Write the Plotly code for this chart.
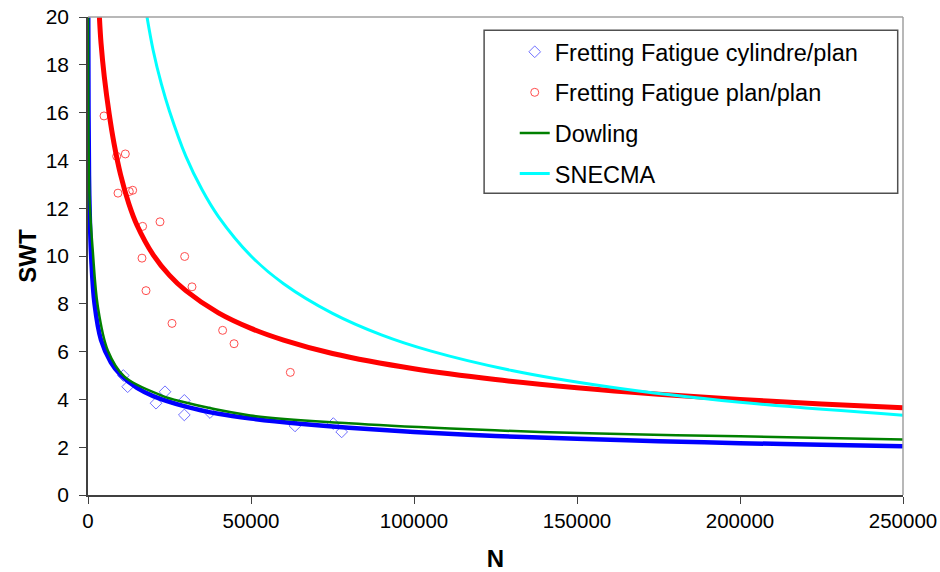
import plotly.graph_objects as go

# Experimental points
cyl_N = [10840, 12170, 20860, 23620, 29550, 29550, 37420, 63500, 75250, 77810]
cyl_SWT = [5.00, 4.53, 3.84, 4.32, 3.96, 3.35, 3.45, 2.89, 2.99, 2.64]

plan_N = [4908, 8800, 11450, 9200, 12670, 13700, 16750, 22090, 16560, 29650,
          17790, 31900, 25770, 41300, 44800, 62060]
plan_SWT = [15.86, 14.17, 14.27, 12.63, 12.70, 12.75, 11.24, 11.43, 9.91, 9.98,
            8.55, 8.71, 7.18, 6.89, 6.33, 5.13]

# Fitted curve for cylindre/plan (blue)
blue_N = [75, 150, 300, 500, 1000, 2000, 4000, 7000, 10000, 15000, 20000, 30000,
          40000, 50000, 65000, 80000, 100000, 125000, 150000, 175000, 200000, 225000, 250000]
blue_SWT = [20.0, 16.3, 13.4, 11.9, 9.9, 8.0, 6.48, 5.55, 5.02, 4.48, 4.14, 3.70,
            3.40, 3.20, 2.98, 2.81, 2.64, 2.47, 2.35, 2.25, 2.17, 2.10, 2.04]

# Fitted curve for plan/plan (red)
red_N = [3500, 4000, 5000, 6500, 8000, 10000, 12500, 15000, 20000, 25000, 30000,
         40000, 50000, 60000, 75000, 100000, 125000, 150000, 175000, 200000, 225000, 250000]
red_SWT = [20.0, 18.9, 17.5, 15.95, 14.7, 13.4, 12.2, 11.3, 10.05, 9.19, 8.55,
           7.62, 6.97, 6.48, 5.92, 5.28, 4.83, 4.49, 4.22, 4.00, 3.81, 3.65]

# Dowling (green)
dow_N = [20, 150, 500, 1470, 3000, 6070, 11190, 22430, 28350, 49800, 80000,
         111100, 138680, 170000, 199970, 250000]
dow_SWT = [20.0, 15.0, 12.3, 10.2, 7.9, 6.05, 4.95, 4.17, 3.92, 3.33, 3.00,
           2.78, 2.64, 2.53, 2.46, 2.32]

# SNECMA (cyan)
sn_N = [18100, 20000, 22500, 25000, 30000, 35000, 40000, 50000, 60000, 75000,
        90000, 105000, 130000, 160000, 200000, 250000]
sn_SWT = [20.0, 18.6, 17.2, 16.06, 14.18, 12.77, 11.65, 10.0, 8.84, 7.6,
          6.7, 6.03, 5.21, 4.52, 3.88, 3.34]

x_ticks = [0, 50000, 100000, 150000, 200000, 250000]
y_ticks = [0, 2, 4, 6, 8, 10, 12, 14, 16, 18, 20]

FONT = "Liberation Sans, Arial, sans-serif"

fig = go.Figure()
fig.add_trace(go.Scatter(x=cyl_N, y=cyl_SWT, mode="markers", name="Fretting Fatigue cylindre/plan",
                         marker=dict(symbol="diamond-open", size=9, color="#6f6fff", line=dict(width=1))))
fig.add_trace(go.Scatter(x=plan_N, y=plan_SWT, mode="markers", name="Fretting Fatigue plan/plan",
                         marker=dict(symbol="circle-open", size=8, color="#ff4d4d", line=dict(width=1))))
fig.add_trace(go.Scatter(x=blue_N, y=blue_SWT, mode="lines", showlegend=False,
                         line=dict(color="#0000ff", width=4.5, shape="spline")))
fig.add_trace(go.Scatter(x=red_N, y=red_SWT, mode="lines", showlegend=False,
                         line=dict(color="#ff0000", width=5, shape="spline")))
fig.add_trace(go.Scatter(x=dow_N, y=dow_SWT, mode="lines", name="Dowling",
                         line=dict(color="#008000", width=2.5, shape="spline")))
fig.add_trace(go.Scatter(x=sn_N, y=sn_SWT, mode="lines", name="SNECMA",
                         line=dict(color="#00ffff", width=3, shape="spline")))

fig.update_layout(
    width=940, height=572,
    margin=dict(l=87.5, r=36.7, t=16.7, b=77.3),
    paper_bgcolor="white", plot_bgcolor="white",
    font=dict(family=FONT, size=20, color="black"),
    showlegend=True,
    legend=dict(x=0.5236, y=0.9728, xanchor="left", yanchor="top",
                bgcolor="rgba(0,0,0,0)", borderwidth=0,
                font=dict(family=FONT, size=23.5, color="black"),
                tracegroupgap=7, itemwidth=30),
    xaxis=dict(range=[0, 250000], tickvals=x_ticks, ticktext=[str(v) for v in x_ticks],
               automargin=False, ticklabeloverflow="allow",
               showgrid=False, zeroline=False, showline=True, linecolor="#404040", linewidth=1.5,
               ticks="outside", ticklen=7, tickcolor="#404040",
               tickfont=dict(family=FONT, size=20.5, color="black"),
               title=dict(text="<b>N</b>", font=dict(family=FONT, size=24), standoff=27)),
    yaxis=dict(range=[0, 20], tickvals=y_ticks, automargin=False, ticklabelstandoff=6,
               ticklabeloverflow="allow",
               showgrid=False, zeroline=False, showline=True, linecolor="#404040", linewidth=1.5,
               ticks="outside", ticklen=7, tickcolor="#404040",
               tickfont=dict(family=FONT, size=21, color="black"),
               title=dict(text="<b>SWT</b>", font=dict(family=FONT, size=24), standoff=2)),
)
for i in range(6):
    fig.data[i].legendgroup = "g%d" % i

# top and right border of plot area
fig.add_shape(type="line", xref="paper", yref="paper", x0=0, x1=1, y0=1, y1=1,
              line=dict(color="#a0a0a0", width=1.5))
fig.add_shape(type="line", xref="paper", yref="paper", x0=1, x1=1, y0=0, y1=1,
              line=dict(color="#a0a0a0", width=1.5))
# legend frame
fig.add_shape(type="rect", xref="paper", yref="paper",
              x0=(484 - 87.5) / 815.8, x1=(898 - 87.5) / 815.8,
              y0=(494.7 - 193) / 478, y1=(494.7 - 30) / 478,
              line=dict(color="#505050", width=1.5), fillcolor="rgba(0,0,0,0)")

fig.write_html("out.html", config={"displayModeBar": False},
               post_script="document.body.style.margin='0';document.body.style.overflow='hidden';")
